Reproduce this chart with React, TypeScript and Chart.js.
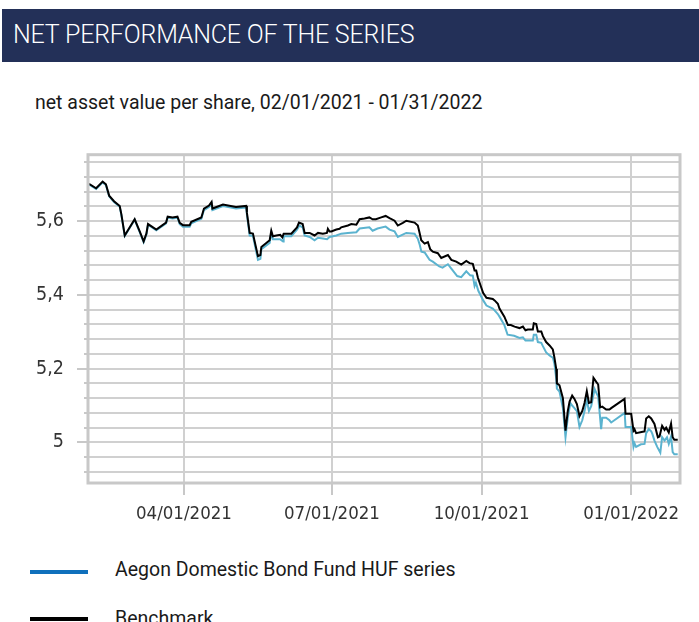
import React, { useEffect, useRef } from "react";
import { Chart, registerables } from "chart.js";

Chart.register(...registerables);

// Day offsets from 02/01/2021
const benchmarkDays = [0,1,5,9,11,13,16,19.5,20.5,22.6,28.7,31.8,34.2,35.9,36.9,42,48,49,52,55,56.4,58.4,62.5,63.5,69.7,71.3,74.4,76,76.5,83,91,97.3,97.7,99.4,101.4,104.5,106,106.6,111.7,112.7,113.7,115.8,118.2,119.5,120.3,125,128.5,129.7,132,133.2,136.3,139.3,141.4,144.4,146.9,147.5,148.5,149.6,152.7,154.7,155.7,159.8,161.9,165,167,170,173,175,177,180.3,183,185.4,188.5,190.5,193.6,195.7,200.8,202.8,203.9,204.9,207,209,210.4,212,215.1,217.2,221.3,223.4,226.4,229.5,232.6,234.6,236.6,237.7,238.7,239.7,241.8,243,245,248.9,250,252,253,256,258.2,260,262.3,265.3,267.4,269,270.4,273.5,274.1,275.6,276.6,278.7,279.7,281.7,283.8,285.8,286.8,287.9,288.3,289.9,292,293.6,295,296.1,297.7,299.1,300.6,302.2,303.9,305.3,306.7,308,309.4,310.8,312.5,313.7,314.9,316.2,318.6,320.6,321.7,329.9,330.5,334,335.4,336,337,341.1,342.2,343.2,344.8,346.3,348.3,350.4,351.4,353,354.5,355.5,357.1,358.5,359.5,360.5,362.6];
const benchmarkValues = [5.700,5.700,5.689,5.707,5.700,5.669,5.654,5.641,5.619,5.561,5.605,5.572,5.545,5.566,5.592,5.577,5.596,5.612,5.610,5.612,5.595,5.589,5.589,5.598,5.610,5.634,5.642,5.652,5.634,5.645,5.638,5.641,5.623,5.568,5.566,5.505,5.508,5.530,5.548,5.574,5.559,5.561,5.563,5.556,5.566,5.566,5.583,5.596,5.592,5.568,5.568,5.561,5.568,5.566,5.568,5.579,5.572,5.572,5.577,5.579,5.583,5.588,5.592,5.590,5.605,5.607,5.610,5.605,5.605,5.610,5.614,5.608,5.601,5.588,5.595,5.601,5.596,5.588,5.568,5.548,5.539,5.543,5.524,5.517,5.513,5.500,5.508,5.495,5.490,5.482,5.492,5.486,5.484,5.466,5.466,5.447,5.420,5.405,5.392,5.389,5.385,5.376,5.363,5.341,5.318,5.318,5.314,5.310,5.314,5.304,5.306,5.306,5.323,5.321,5.301,5.301,5.288,5.272,5.263,5.252,5.230,5.199,5.160,5.155,5.120,5.032,5.085,5.111,5.127,5.118,5.104,5.071,5.085,5.107,5.139,5.107,5.109,5.175,5.164,5.157,5.095,5.097,5.089,5.089,5.093,5.118,5.078,5.078,5.032,5.036,5.025,5.029,5.030,5.065,5.071,5.065,5.050,5.014,5.016,5.045,5.034,5.040,5.027,5.051,5.014,5.007,5.007];

const fundDays = [0,1,5,9,11,13,16,19.5,20.5,22.6,28.7,31.8,34.2,35.9,36.9,42,48,49,52,55,56.4,58.4,62.5,63.5,69.7,71.3,74.4,76,76.5,83,91,97.3,97.7,99.4,101.4,104.5,106,106.6,111.7,112.7,113.7,118,120,120.3,125,128.5,130,132,133.2,136.3,139.3,141.4,144.4,147,148.5,152.7,155.7,159.8,165,167,173,175,178,183,185.4,188.5,190.5,195.7,200.8,202.8,204,205,207,210,212,216,218,221.3,223.4,227,229.5,232.6,235,236.6,237.7,238.5,240,243,245,248.9,250,252,253,256,258,262,265.3,267.4,269,273.5,274.1,275.6,276.6,278.7,279.7,281.7,284,285.8,286.8,287.9,288.3,289.9,292,293.6,295,296.6,297.7,299.1,300.6,302.2,303.9,305.3,306.7,308,309.4,311.5,312.5,313.7,315.5,316.2,318.6,320.6,321.7,330,330.5,334,335.4,336,337,340,342.2,343.2,344.8,346.3,347,348.3,350,351.9,353,354.5,356,357.1,358.5,359.5,360.5,362.6];
const fundValues = [5.698,5.698,5.687,5.705,5.698,5.667,5.652,5.639,5.617,5.560,5.604,5.570,5.543,5.564,5.590,5.575,5.594,5.610,5.607,5.609,5.592,5.585,5.585,5.594,5.606,5.630,5.638,5.647,5.630,5.641,5.634,5.637,5.618,5.561,5.560,5.495,5.498,5.524,5.541,5.568,5.551,5.551,5.545,5.559,5.559,5.577,5.588,5.583,5.561,5.557,5.548,5.555,5.553,5.551,5.557,5.561,5.566,5.568,5.570,5.580,5.583,5.574,5.580,5.585,5.577,5.572,5.557,5.568,5.566,5.552,5.535,5.517,5.515,5.495,5.490,5.477,5.474,5.483,5.471,5.451,5.448,5.464,5.453,5.452,5.424,5.433,5.411,5.385,5.371,5.363,5.358,5.348,5.341,5.318,5.292,5.289,5.283,5.285,5.276,5.276,5.292,5.292,5.272,5.270,5.261,5.244,5.235,5.230,5.213,5.173,5.146,5.138,5.093,5.014,5.067,5.107,5.100,5.093,5.085,5.042,5.060,5.085,5.116,5.085,5.098,5.145,5.135,5.124,5.036,5.067,5.067,5.060,5.054,5.080,5.042,5.042,4.988,4.998,4.988,4.995,4.996,5.025,5.036,5.030,5.023,5.005,4.988,4.972,5.014,5.005,5.014,4.996,5.016,4.974,4.968,4.968];

const xTickDays = [59, 150, 242, 334];
const xTickLabels = ["04/01/2021", "07/01/2021", "10/01/2021", "01/01/2022"];
const yMajorValues = [5, 5.2, 5.4, 5.6];
const yTickLabels = ["5", "5,2", "5,4", "5,6"];
const yMin = 4.89;
const yMax = 5.78;
const yMinorStep = 0.04;

const seriesNames = ["Aegon Domestic Bond Fund HUF series", "Benchmark"];

const GRID = "#d0d0d0";
const FRAME = "#c8c8c8";
const TEAL = "#5bb3cf";
const LEGEND_BLUE = "#0f70bc";

function isMajor(v: number) {
  return yMajorValues.some((m) => Math.abs(m - v) < 1e-6);
}

export default function App() {
  const ref = useRef<HTMLCanvasElement | null>(null);

  useEffect(() => {
    if (!ref.current) return;
    const yTicks: number[] = [];
    for (let i = 0; ; i++) {
      const v = Math.round((4.92 + i * yMinorStep) * 100) / 100;
      if (v > yMax) break;
      yTicks.push(v);
    }
    const framePlugin = {
      id: "frame",
      afterDraw(chart: any) {
        const { ctx, chartArea } = chart;
        const ys = chart.scales.y;
        ctx.save();
        ctx.strokeStyle = FRAME;
        ctx.lineWidth = 2;
        yTicks.forEach((v) => {
          if (isMajor(v)) return;
          const py = Math.round(ys.getPixelForValue(v));
          ctx.beginPath();
          ctx.moveTo(chartArea.left - 4, py);
          ctx.lineTo(chartArea.left, py);
          ctx.stroke();
        });
        ctx.lineWidth = 3;
        ctx.strokeRect(chartArea.left, chartArea.top, chartArea.right - chartArea.left, chartArea.bottom - chartArea.top);
        ctx.restore();
      },
    };
    const tickFont = "'DejaVu Sans Condensed', 'DejaVu Sans', sans-serif";
    const chart = new Chart(ref.current, {
      type: "line",
      data: {
        datasets: [
          {
            label: seriesNames[1],
            data: benchmarkDays.map((d, i) => ({ x: d, y: benchmarkValues[i] })),
            borderColor: "#000000",
            borderWidth: 2,
            pointRadius: 0,
            tension: 0,
            order: 0,
          },
          {
            label: seriesNames[0],
            data: fundDays.map((d, i) => ({ x: d, y: fundValues[i] })),
            borderColor: TEAL,
            borderWidth: 2,
            pointRadius: 0,
            tension: 0,
            order: 1,
          },
        ],
      },
      options: {
        animation: false,
        responsive: false,
        layout: { padding: { top: 18, right: 19, left: 0, bottom: 0 } },
        plugins: { legend: { display: false }, tooltip: { enabled: false } },
        scales: {
          x: {
            type: "linear",
            min: 0,
            max: 364,
            afterBuildTicks: (s: any) => {
              s.ticks = xTickDays.map((v) => ({ value: v }));
            },
            afterFit: (s: any) => {
              s.height = 57;
            },
            grid: { color: GRID, lineWidth: 2, tickLength: 12, tickColor: FRAME },
            border: { display: false },
            ticks: {
              autoSkip: false,
              maxRotation: 0,
              padding: 8,
              color: "#333333",
              font: { family: tickFont, size: 18.5 },
              callback: (v: any) => {
                const i = xTickDays.indexOf(Number(v));
                return i >= 0 ? xTickLabels[i] : "";
              },
            },
          },
          y: {
            type: "linear",
            min: yMin,
            max: yMax,
            afterBuildTicks: (s: any) => {
              s.ticks = yTicks.map((v) => ({ value: v }));
            },
            afterFit: (s: any) => {
              s.width = 88;
            },
            grid: {
              color: GRID,
              lineWidth: 2,
              tickLength: 11,
              tickColor: (c: any) => (c.tick && isMajor(c.tick.value) ? FRAME : "rgba(0,0,0,0)"),
            },
            border: { display: false },
            ticks: {
              autoSkip: false,
              padding: 13,
              color: "#333333",
              font: { family: tickFont, size: 19.5 },
              callback: (v: any) => {
                const i = yMajorValues.findIndex((m) => Math.abs(m - Number(v)) < 1e-6);
                return i >= 0 ? yTickLabels[i] : "";
              },
            },
          },
        },
      },
      plugins: [framePlugin],
    } as any);
    return () => chart.destroy();
  }, []);

  const font = "Roboto, 'Noto Sans', sans-serif";
  return (
    <div style={{ position: "absolute", left: 0, top: 0, width: 699, height: 622, overflow: "hidden", background: "#fff" }}>
      <div style={{ position: "absolute", left: 2, top: 9, width: 697, height: 53, background: "#233058" }} />
      <div style={{ position: "absolute", left: 13, top: 22, fontFamily: font, fontSize: 25, fontWeight: 300, lineHeight: "25px", letterSpacing: "-0.2px", color: "#fff", whiteSpace: "nowrap" }}>
        NET PERFORMANCE OF THE SERIES
      </div>
      <div style={{ position: "absolute", left: 35, top: 93, fontFamily: font, fontSize: 19.5, lineHeight: "19.5px", color: "#1a1a1a", whiteSpace: "nowrap" }}>
        net asset value per share, 02/01/2021 - 01/31/2022
      </div>
      <canvas ref={ref} width={699} height={410} style={{ position: "absolute", left: 0, top: 130, width: 699, height: 410 }} />
      <div style={{ position: "absolute", left: 30, top: 570, width: 58, height: 4, background: LEGEND_BLUE }} />
      <div style={{ position: "absolute", left: 115, top: 560, fontFamily: font, fontSize: 19.5, lineHeight: "19.5px", color: "#1a1a1a", whiteSpace: "nowrap" }}>
        {seriesNames[0]}
      </div>
      <div style={{ position: "absolute", left: 30, top: 617, width: 58, height: 4, background: "#000" }} />
      <div style={{ position: "absolute", left: 115, top: 609, fontFamily: font, fontSize: 19.5, lineHeight: "19.5px", color: "#1a1a1a", whiteSpace: "nowrap" }}>
        {seriesNames[1]}
      </div>
    </div>
  );
}
